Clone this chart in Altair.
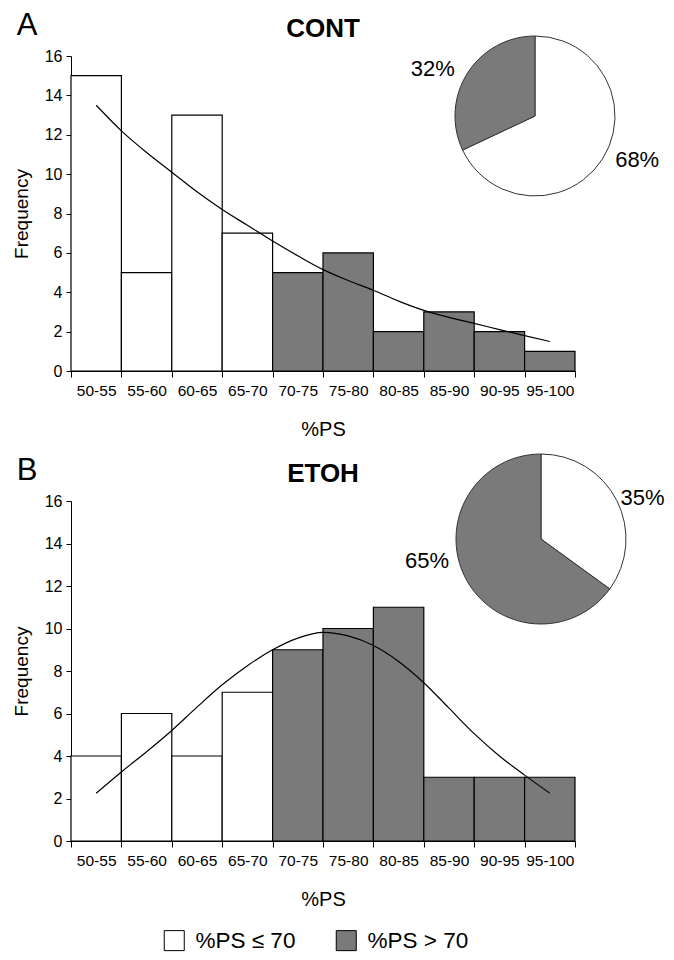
import altair as alt
import pandas as pd

# ---------------- data ----------------
bins = ["50-55", "55-60", "60-65", "65-70", "70-75",
        "75-80", "80-85", "85-90", "90-95", "95-100"]
bin_low = [50, 55, 60, 65, 70, 75, 80, 85, 90, 95]
cont_freq = [15, 5, 13, 7, 5, 6, 2, 3, 2, 1]
etoh_freq = [4, 6, 4, 7, 9, 10, 11, 3, 3, 3]

curve_x = [52.5, 55, 57.5, 60, 62.5, 65, 67.5, 70, 72.5, 75,
           77.5, 80, 82.5, 85, 87.5, 90, 92.5, 95, 97.5]
cont_curve = [13.5, 12.2, 11.1, 10.1, 9.1, 8.2, 7.4, 6.6, 5.85, 5.15,
              4.6, 4.1, 3.55, 3.08, 2.72, 2.42, 2.1, 1.8, 1.5]
etoh_curve = [2.25, 3.25, 4.2, 5.2, 6.3, 7.35, 8.25, 9.0, 9.55, 9.82,
              9.65, 9.2, 8.45, 7.45, 6.25, 5.05, 4.0, 3.1, 2.25]

groups = ["%PS \u2264 70", "%PS > 70"]
cont_pie = [68, 32]
etoh_pie = [35, 65]

GRAY = "#7a7a7a"
FONT = "Liberation Sans"

fill_scale = alt.Scale(domain=groups, range=["white", GRAY])
fill_legend = alt.Legend(
    title=None, orient="none", direction="horizontal",
    legendX=92, legendY=873,
    symbolType="square", symbolSize=400, symbolStrokeColor="black",
    symbolStrokeWidth=1, labelFontSize=22.5, labelFont=FONT,
    labelColor="black", labelOffset=10, columnPadding=38, symbolOpacity=1,
)

y_axis = alt.Axis(title="Frequency", values=list(range(0, 17, 2)),
                  grid=False, labelFontSize=16, titleFontSize=19,
                  titleFontWeight="normal", tickSize=5,
                  labelPadding=4, titlePadding=13, labelOverlap=False,
                  domainColor="black", tickColor="black",
                  labelColor="black", titleColor="black",
                  labelFont=FONT, titleFont=FONT)
y_scale = alt.Scale(domain=[0, 16])


def panel(letter, name, freq, curve, pie, h, pie_cx, pie_cy, pie_r, lab):
    bars_df = pd.DataFrame({
        "bin": bins,
        "freq": freq,
        "group": [groups[0] if lo < 70 else groups[1] for lo in bin_low],
    })
    bars = alt.Chart(bars_df).mark_bar(stroke="black", strokeWidth=1.2).encode(
        x=alt.X("bin:N", sort=bins,
                scale=alt.Scale(paddingInner=0, paddingOuter=0),
                axis=alt.Axis(title="%PS", labelAngle=0, tickBand="extent",
                              labelFontSize=15.5, titleFontSize=20,
                              titleFontWeight="normal", labelPadding=6,
                              tickSize=6, titlePadding=21, labelOverlap=False,
                              domainColor="black", tickColor="black",
                              labelColor="black", titleColor="black",
                              labelFont=FONT, titleFont=FONT, grid=False)),
        y=alt.Y("freq:Q", scale=y_scale, axis=y_axis),
        fill=alt.Fill("group:N", scale=fill_scale, legend=fill_legend),
    )

    curve_df = pd.DataFrame({"x": curve_x, "freq": curve})
    line = alt.Chart(curve_df).mark_line(
        color="black", strokeWidth=1.2, interpolate="monotone"
    ).encode(
        x=alt.X("x:Q", scale=alt.Scale(domain=[50, 100]), axis=None),
        y=alt.Y("freq:Q", scale=y_scale, axis=y_axis),
    )

    pie_df = pd.DataFrame({"group": groups, "pct": pie})
    pie_df["label"] = [f"{v}%" for v in pie]
    arc = alt.Chart(pie_df).mark_arc(
        radius=pie_r, stroke="#333333", strokeWidth=1
    ).encode(
        theta=alt.Theta("pct:Q", stack=True),
        order=alt.Order("group:N", sort="descending"),
        fill=alt.Fill("group:N", scale=fill_scale, legend=fill_legend),
        x=alt.value(pie_cx), y=alt.value(pie_cy),
    )

    texts = []
    for gi, (r, dy) in enumerate(lab):
        t = alt.Chart(pie_df).transform_calculate(
            shown=f"datum.group == '{groups[gi]}' ? datum.label : ''"
        ).mark_text(radius=r, dy=dy, fontSize=22, font=FONT, color="black").encode(
            theta=alt.Theta("pct:Q", stack=True),
            order=alt.Order("group:N", sort="descending"),
            text="shown:N",
            x=alt.value(pie_cx), y=alt.value(pie_cy),
        )
        texts.append(t)

    ann_df = pd.DataFrame({"letter": [letter], "name": [name]})
    let_mark = alt.Chart(ann_df).mark_text(
        fontSize=31, font=FONT, color="black"
    ).encode(text="letter:N", x=alt.value(-44), y=alt.value(-30))
    name_mark = alt.Chart(ann_df).mark_text(
        fontSize=26, font=FONT, fontWeight="bold", color="black"
    ).encode(text="name:N", x=alt.value(252), y=alt.value(-27))

    return alt.layer(bars, line, arc, *texts, let_mark, name_mark).resolve_scale(
        x="independent", theta="independent"
    ).properties(width=504, height=h)


pA = panel("A", "CONT", cont_freq, cont_curve, cont_pie, 315, 464, 60, 80,
           [(121, -21), (121, 18)])
pB = panel("B", "ETOH", etoh_freq, etoh_curve, etoh_pie, 340, 470, 38, 85,
           [(114, 11), (128, -36)])

chart = alt.vconcat(pA, pB, spacing=-7).resolve_scale(fill="shared").properties(
    padding={"left": 12, "top": 10, "right": 5, "bottom": 5}
).configure(font=FONT).configure_view(
    stroke="transparent", strokeWidth=0
).configure_axis(grid=False)

chart.save("out.html", embed_options={"renderer": "svg", "actions": False})
